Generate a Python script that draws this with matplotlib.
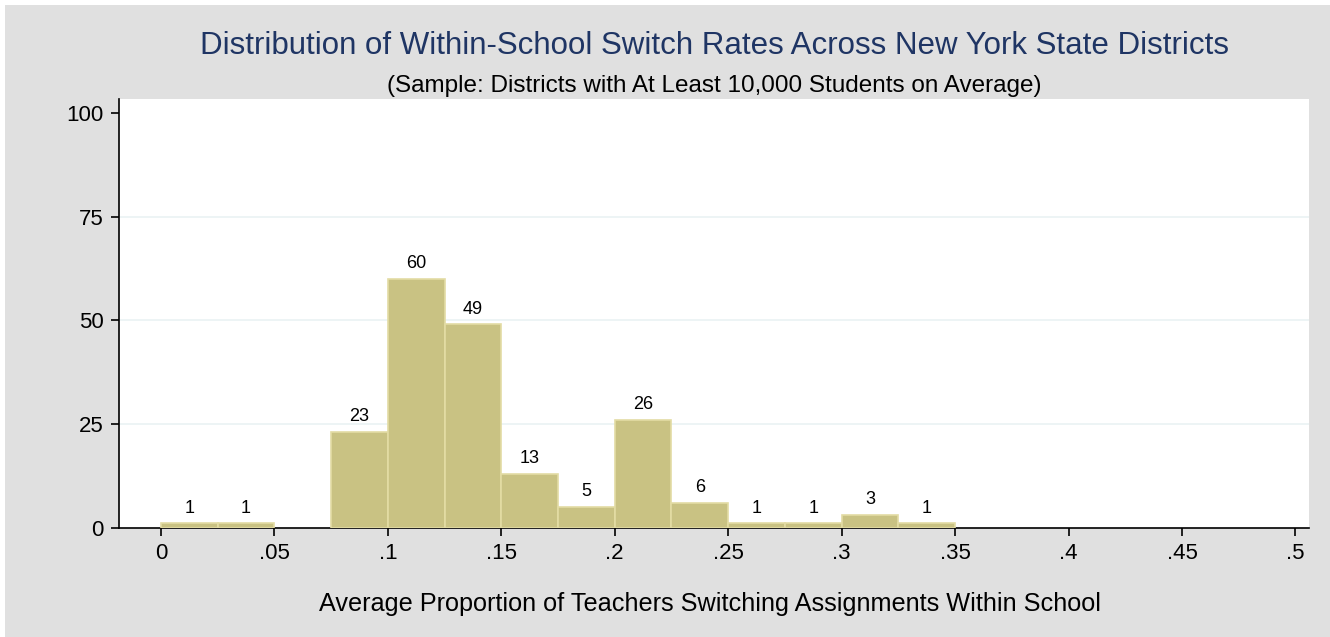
import numpy as np
import matplotlib
matplotlib.use("Agg")
import matplotlib.pyplot as plt
from matplotlib.patches import Rectangle

# ──────────────────────────────────────────────────────────────
# DATA  (histogram of district switch rates, bin width .025)
# ──────────────────────────────────────────────────────────────
bin_edges  = [0, .025, .05, .075, .1, .125, .15, .175, .2, .225, .25, .275, .3, .325, .35]
counts     = [1, 1, 0, 23, 60, 49, 13, 5, 26, 6, 1, 1, 3, 1]
x_ticks    = [0, .05, .1, .15, .2, .25, .3, .35, .4, .45, .5]
x_labels   = ["0", ".05", ".1", ".15", ".2", ".25", ".3", ".35", ".4", ".45", ".5"]
y_ticks    = [0, 25, 50, 75, 100]

TITLE    = "Distribution of Within-School Switch Rates Across New York State Districts"
SUBTITLE = "(Sample: Districts with At Least 10,000 Students on Average)"
XLABEL   = "Average Proportion of Teachers Switching Assignments Within School"

plt.rcParams["font.family"] = ["Liberation Sans", "DejaVu Sans"]

fig = plt.figure(figsize=(13.3, 6.37), dpi=100, facecolor="white")
fig.patches.append(Rectangle((5 / 1330, 0), 1, 1 - 5 / 637, transform=fig.transFigure,
                             facecolor="#e0e0e0", edgecolor="none", zorder=-10))

ax = fig.add_axes([119 / 1330, 109.4 / 637, 1190 / 1330, 428.6 / 637])
ax.set_zorder(1)
ax.set_facecolor("white")

# bars (empty bins are skipped so no stray edge line is drawn)
lefts  = np.array(bin_edges[:-1])
widths = np.diff(bin_edges)
heights = np.array(counts)
keep = heights > 0
ax.bar(lefts[keep], heights[keep], width=widths[keep], align="edge", color="#c9c283",
       edgecolor="#e3dca4", linewidth=1.2, zorder=3)

for left, w, c in zip(lefts[keep], widths[keep], heights[keep]):
    ax.annotate(str(c), (left + w / 2, c), xytext=(0, 5), textcoords="offset points",
                ha="center", va="bottom", fontsize=13, color="black", zorder=4)

ax.set_xlim(-0.0185, 0.506)
ax.set_ylim(0, 103.4)
ax.set_xticks(x_ticks)
ax.set_xticklabels(x_labels)
ax.set_yticks(y_ticks)
ax.tick_params(axis="both", direction="out", length=6, width=1.2, labelsize=16,
               colors="black", pad=5)

for g in [25, 50, 75]:
    ax.axhline(g, color="#eaf2f3", linewidth=1.2, zorder=1)

for s in ["top", "right"]:
    ax.spines[s].set_visible(False)
for s in ["left", "bottom"]:
    ax.spines[s].set_linewidth(1.2)
    ax.spines[s].set_color("black")

fig.text(714 / 1330, 1 - 46 / 637, TITLE, ha="center", va="center",
         fontsize=22.5, color="#1f3564")
fig.text(714 / 1330, 1 - 86 / 637, SUBTITLE, ha="center", va="center",
         fontsize=17.5, color="black")
fig.text(710 / 1330, 1 - 604 / 637, XLABEL, ha="center", va="center",
         fontsize=18.2, color="black")

fig.savefig("out.png", dpi=100, facecolor=fig.get_facecolor())
